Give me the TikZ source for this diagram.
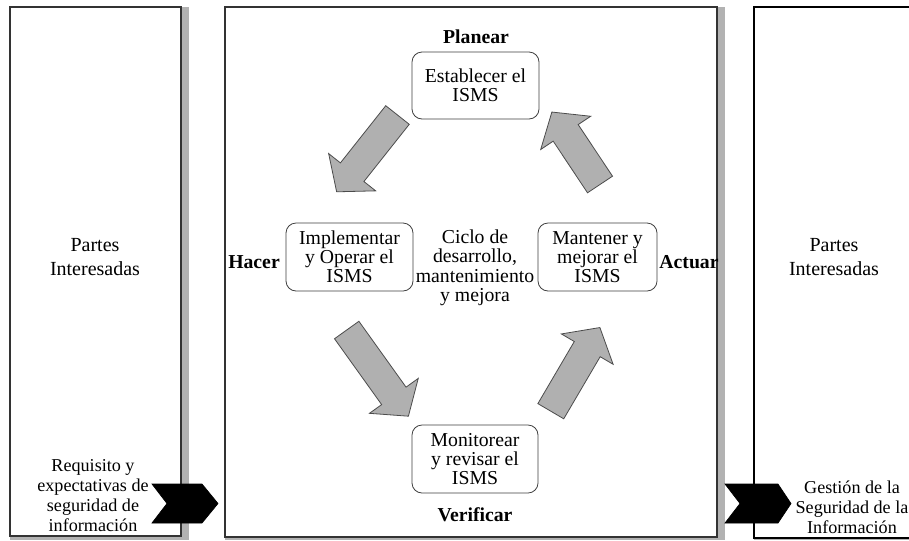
\documentclass[tikz,border=0pt]{standalone}
\usepackage{fontspec}
\setmainfont{Liberation Serif}
\newcommand{\blockarr}[4]{%
  \draw[blockarrow, shift={(#1,#2)}, rotate=-#3]
    (0,-15) -- (#4-25,-15) -- (#4-25,-30) -- (#4,0) -- (#4-25,30) -- (#4-25,15) -- (0,15) -- cycle;}
\begin{document}
\begin{tikzpicture}[x=0.75pt,y=-0.75pt,
  frame/.style={draw=black!80, line width=0.8pt},
  shade/.style={fill=black!30, draw=none},
  stage/.style={draw=black!75, fill=white, rounded corners=7.5pt, line width=0.6pt,
    align=center, inner sep=0pt, font=\fontsize{14.8}{14.2}\selectfont},
  phase/.style={font=\bfseries\fontsize{14.8}{14}\selectfont, inner sep=0pt},
  body/.style={align=center, inner sep=0pt, font=\fontsize{14.8}{14.6}\selectfont},
  party/.style={align=center, inner sep=0pt, font=\fontsize{15}{18}\selectfont},
  side/.style={align=center, inner sep=0pt, font=\fontsize{13.6}{15}\selectfont},
  blockarrow/.style={fill=black!31, draw=black!70, line width=0.6pt, line join=miter},
  chev/.style={fill=black, draw=black, line width=0.5pt}]
\useasboundingbox (0,0) rectangle (909,540);
\fill[white] (0,0) rectangle (909,540);
% left frame
\fill[shade] (181,7) rectangle (189,540);
\fill[shade] (10,536) rectangle (189,540);
\draw[frame] (10,7) rectangle (181,536);
% middle frame
\fill[shade] (717,7) rectangle (725,540);
\fill[shade] (225,537) rectangle (725,540);
\draw[frame] (225,7) rectangle (717,537);
% right frame
\fill[shade] (754,538) rectangle (909,540);
\draw[frame, draw=black] (912,7) -- (754,7) -- (754,538) -- (912,538);
% texts of the side frames
\node[party] (pl) at (95,257) {Partes\\Interesadas};
\node[side] (req) at (93,495.5) {Requisito y\\expectativas de\\seguridad de\\información};
\node[party] (pr) at (834,257) {Partes\\Interesadas};
\node[side] (ges) at (852,507.5) {Gestión de la\\Seguridad de la\\Información};
% chevrons
\draw[chev] (152,484) -- (202,484) -- (218,503.5) -- (202,523) -- (152,523) -- (167,503.5) -- cycle;
\draw[chev] (725,484) -- (778,484) -- (791,503.5) -- (778,523) -- (725,523) -- (740,503.5) -- cycle;
\draw[draw=black, line width=0.8pt] (754,480) -- (754,527);
% phase labels
\node[phase] (plan) at (476,37) {Planear};
\node[phase] (hac) at (254,262) {Hacer};
\node[phase] (act) at (689,262) {Actuar};
\node[phase] (ver) at (475,515) {Verificar};
% stage boxes
\node[stage, minimum width=95.25pt, minimum height=50.25pt] (est) at (475.5,85.5) {Establecer el\\ISMS};
\node[stage, minimum width=95.25pt, minimum height=51pt] (imp) at (349.5,257) {Implementar\\y Operar el\\ISMS};
\node[stage, minimum width=89.25pt, minimum height=51pt] (man) at (597.5,257) {Mantener y\\mejorar el\\ISMS};
\node[stage, minimum width=94.5pt, minimum height=51pt] (mon) at (475,459) {Monitorear\\y revisar el\\ISMS};
\node[body] (cyc) at (475,268) {Ciclo de\\desarrollo,\\mantenimiento\\y mejora};
% block arrows
\blockarr{397.5}{115}{128.4}{98}
\blockarr{346.7}{330}{54.4}{106}
\blockarr{550.8}{411.2}{-59.6}{97}
\blockarr{600}{184.5}{-123.6}{87}
\end{tikzpicture}
\end{document}
